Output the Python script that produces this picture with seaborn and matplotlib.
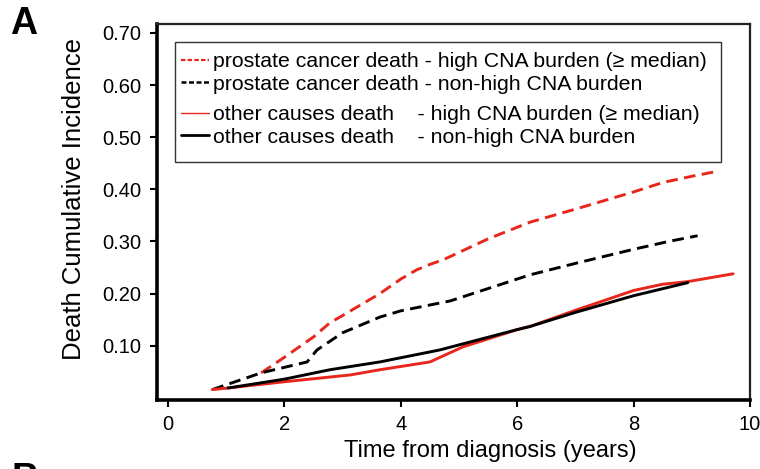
import numpy as np
import pandas as pd
import matplotlib
matplotlib.use("Agg")
import matplotlib.pyplot as plt
from matplotlib.lines import Line2D
from matplotlib.patches import Rectangle
import seaborn as sns

# --- data ---
pc_high_t = [1.60, 2.00, 2.50, 2.78, 3.00, 3.64, 4.00, 4.28, 4.50, 4.73, 5.50, 6.22, 7.00, 8.00, 8.50, 9.00, 9.37]
pc_high_y = [0.048, 0.078, 0.117, 0.144, 0.158, 0.200, 0.228, 0.246, 0.256, 0.265, 0.305, 0.337, 0.362, 0.395, 0.413, 0.425, 0.433]

pc_non_t = [0.76, 1.60, 2.39, 2.56, 3.00, 3.64, 4.00, 4.85, 6.22, 7.00, 8.00, 8.60, 9.10]
pc_non_y = [0.016, 0.048, 0.069, 0.092, 0.125, 0.155, 0.167, 0.186, 0.236, 0.258, 0.285, 0.300, 0.311]

oc_high_t = [0.76, 1.03, 2.00, 2.78, 3.13, 3.64, 4.50, 5.07, 6.00, 6.22, 7.00, 8.00, 8.50, 8.93, 9.71]
oc_high_y = [0.016, 0.019, 0.031, 0.040, 0.044, 0.054, 0.069, 0.098, 0.131, 0.137, 0.168, 0.206, 0.218, 0.223, 0.238]

oc_non_t = [1.03, 2.00, 2.78, 3.64, 4.67, 6.00, 6.22, 7.00, 8.00, 8.93]
oc_non_y = [0.019, 0.036, 0.054, 0.069, 0.092, 0.131, 0.137, 0.164, 0.196, 0.221]

labels = [
    "prostate cancer death - high CNA burden (\u2265 median)",
    "prostate cancer death - non-high CNA burden",
    "other causes death    - high CNA burden (\u2265 median)",
    "other causes death    - non-high CNA burden",
]
x_ticks = [0, 2, 4, 6, 8, 10]
y_ticks = [0.10, 0.20, 0.30, 0.40, 0.50, 0.60, 0.70]

sns.set_theme(style="white")
plt.rcParams["font.family"] = ["Liberation Sans", "DejaVu Sans"]
for k in ["text.color", "axes.labelcolor", "xtick.color", "ytick.color"]:
    plt.rcParams[k] = "black"

W, H = 760, 469
fig = plt.figure(figsize=(W/100, H/100), dpi=100)
AX_L, AX_R, AX_T, AX_B = 157, 750, 24, 400
ax = fig.add_axes([AX_L/W, 1-AX_B/H, (AX_R-AX_L)/W, (AX_B-AX_T)/H])

def ax_x(px):
    return (px - AX_L) / (AX_R - AX_L)

def ax_y(py):
    return (AX_B - py) / (AX_B - AX_T)

RED = "#e8261c"
series = [
    (pc_high_t, pc_high_y, RED, (0, (4.0, 2.2))),
    (pc_non_t, pc_non_y, "black", (0, (4.0, 2.2))),
    (oc_high_t, oc_high_y, RED, "-"),
    (oc_non_t, oc_non_y, "black", "-"),
]
for t, y, c, ls in series:
    df = pd.DataFrame({"t": t, "y": y})
    sns.lineplot(data=df, x="t", y="y", ax=ax, color=c, linestyle=ls, lw=2.1,
                 estimator=None, sort=False)

ax.set_xlim(-0.19, 10.0)
ax.set_ylim(-0.004, 0.717)
ax.set_xticks(x_ticks)
ax.set_xticklabels([str(v) for v in x_ticks])
ax.set_yticks(y_ticks)
ax.set_yticklabels([f"{v:.2f}" for v in y_ticks])
ax.tick_params(axis="both", which="major", direction="out", length=5, width=1.5,
               labelsize=14.5, colors="black", left=True, bottom=True)
ax.tick_params(axis="x", pad=6)
ax.tick_params(axis="y", pad=6)
ax.set_xlabel("Time from diagnosis (years)", fontsize=17)
ax.set_ylabel("Death Cumulative Incidence", fontsize=18.5)
ax.xaxis.set_label_coords(ax_x(490), ax_y(457), transform=ax.transAxes)
ax.xaxis.label.set_va("baseline")
ax.yaxis.set_label_coords(ax_x(81), ax_y(199), transform=ax.transAxes)
ax.yaxis.label.set_va("baseline")

for side in ["left", "bottom"]:
    ax.spines[side].set_linewidth(2.6)
    ax.spines[side].set_color("black")
for side in ["top", "right"]:
    ax.spines[side].set_linewidth(1.6)
    ax.spines[side].set_color("#222222")
    ax.spines[side].set_visible(True)

handles = [
    Line2D([], [], color=RED, lw=1.6, linestyle=(0, (2.0, 1.0))),
    Line2D([], [], color="black", lw=1.8, linestyle=(0, (2.0, 1.0))),
    Line2D([], [], color=RED, lw=1.0, linestyle="-"),
    Line2D([], [], color="black", lw=2.0, linestyle="-"),
]
common = dict(loc="upper left", fontsize=15.3, frameon=False, handlelength=1.3,
              handletextpad=0.2, labelspacing=0.18, borderpad=0, borderaxespad=0)
leg1 = ax.legend(handles[:2], labels[:2], bbox_to_anchor=(ax_x(181), ax_y(52)), **common)
ax.add_artist(leg1)
leg2 = ax.legend(handles[2:], labels[2:], bbox_to_anchor=(ax_x(181), ax_y(105)), **common)
ax.add_patch(Rectangle((ax_x(175), ax_y(162)), ax_x(721) - ax_x(175), ax_y(42) - ax_y(162),
                       transform=ax.transAxes, fill=True, facecolor="white",
                       edgecolor="#333333", lw=1.0, zorder=4))
leg1.set_zorder(5)
leg2.set_zorder(5)

fig.text(10/W, 1-34/H, "A", fontsize=27, fontweight="bold", ha="left", va="baseline")
fig.text(12/W, 1-490/H, "B", fontsize=27, fontweight="bold", ha="left", va="baseline")

fig.savefig("out.png", dpi=100)
